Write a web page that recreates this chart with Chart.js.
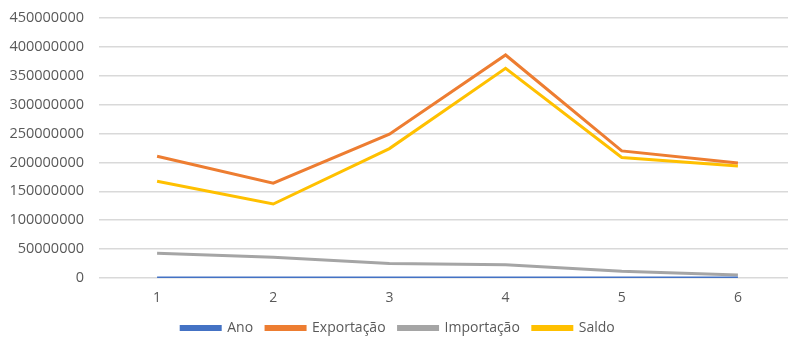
<!DOCTYPE html>
<html>
<head>
<meta charset="utf-8">
<script src="https://cdn.jsdelivr.net/npm/chart.js@4/dist/chart.umd.min.js"></script>
<style>
  html, body { margin: 0; padding: 0; background: #fff; overflow: hidden; }
  #wrap { width: 796px; height: 341px; }
</style>
</head>
<body>
<div id="wrap"><canvas id="c" width="796" height="341"></canvas></div>
<script>
// Balança comercial por período
const categorias = ['1', '2', '3', '4', '5', '6'];
const ano = [2015, 2016, 2017, 2018, 2019, 2020];
const exportacao = [210600000, 164000000, 249000000, 386000000, 220000000, 199000000];
const importacao = [43000000, 36000000, 25000000, 23000000, 11500000, 5000000];
const saldo = [167600000, 128000000, 224000000, 363000000, 208500000, 194000000];
const yTicks = { min: 0, max: 450000000, step: 50000000 };

const fontFamily = '"Open Sans", "DejaVu Sans", sans-serif';
const textColor = '#595959';

function serie(label, data, color) {
  return {
    label, data,
    borderColor: color,
    backgroundColor: color,
    borderWidth: 3,
    pointRadius: 0,
    pointHoverRadius: 0,
    tension: 0,
    fill: false
  };
}

new Chart(document.getElementById('c'), {
  type: 'line',
  data: {
    labels: categorias,
    datasets: [
      serie('Ano', ano, '#4472C4'),
      serie('Exportação', exportacao, '#ED7D31'),
      serie('Importação', importacao, '#A5A5A5'),
      serie('Saldo', saldo, '#FFC000')
    ]
  },
  options: {
    responsive: false,
    animation: false,
    layout: { padding: { top: 18, left: 0, right: 0, bottom: -4 } },
    plugins: {
      tooltip: { enabled: false },
      legend: {
        position: 'bottom',
        labels: {
          boxWidth: 39,
          boxHeight: 3,
          padding: 13,
          color: textColor,
          font: { family: fontFamily, size: 14 }
        }
      }
    },
    scales: {
      x: {
        offset: true,
        grid: { display: false, drawTicks: false },
        border: { display: false },
        ticks: { color: textColor, padding: 12, font: { family: fontFamily, size: 14 } },
        afterFit: s => { s.height = 30; }
      },
      y: {
        min: yTicks.min,
        max: yTicks.max,
        grid: { color: '#D9D9D9', lineWidth: 1.5, drawTicks: false },
        border: { display: false },
        ticks: {
          stepSize: yTicks.step,
          color: textColor,
          padding: 15,
          font: { family: fontFamily, size: 14.5 },
          callback: v => String(v)
        },
        afterFit: s => { s.width = 99; s.paddingTop = 0; s.paddingBottom = 0; }
      }
    }
  }
});
</script>
</body>
</html>
